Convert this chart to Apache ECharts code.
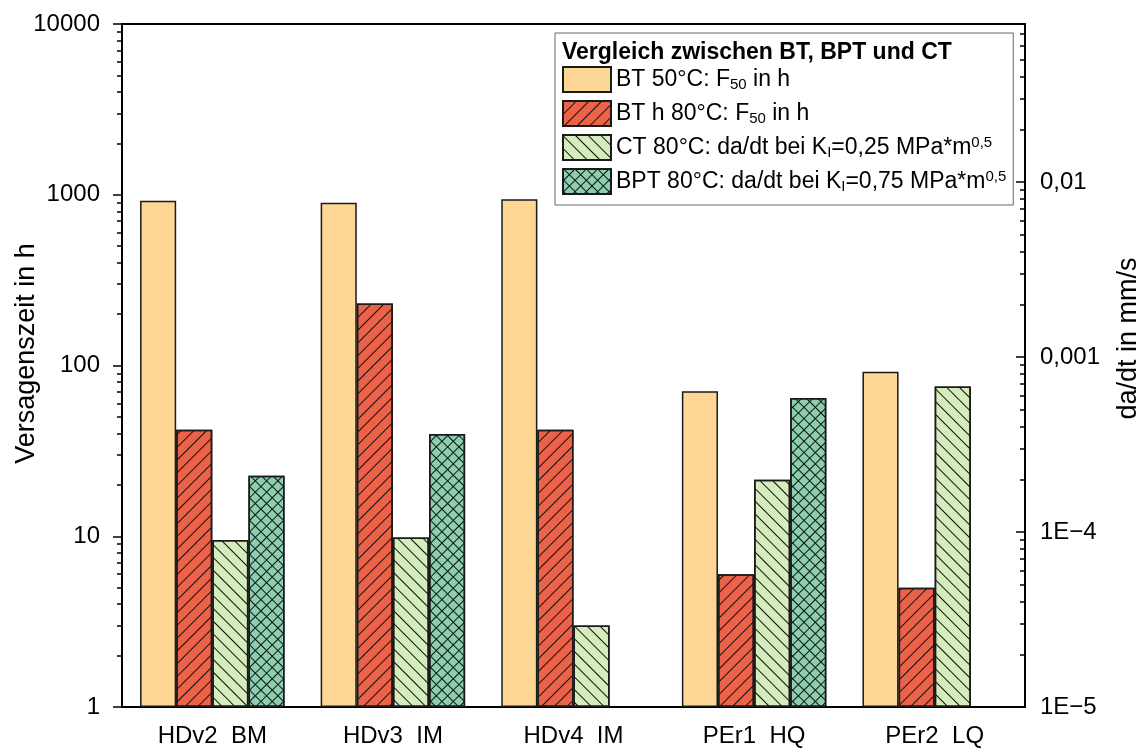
<!DOCTYPE html>
<html>
<head>
<meta charset="utf-8">
<script src="https://cdn.jsdelivr.net/npm/echarts@6/dist/echarts.min.js"></script>
<style>
  html, body { margin: 0; padding: 0; background: #fff; }
  #chart { width: 1146px; height: 749px; }
</style>
</head>
<body>
<div id="chart"></div>
<script>
// Sample groups on the category axis
const categories = ['HDv2  BM', 'HDv3  IM', 'HDv4  IM', 'PEr1  HQ', 'PEr2  LQ'];

// Series names (legend entries)
const seriesNames = ['BT 50°C', 'BT h 80°C', 'CT 80°C', 'BPT 80°C'];

// Failure times in h (left axis)
const bt50 = [923, 898, 940, 70.6, 92];
const bt80 = [42, 231, 42, 6.0, 5.0];

// Crack growth rates da/dt in mm/s (right axis)
const ct80 = [9.0e-5, 9.3e-5, 2.92e-5, 1.99e-4, 6.78e-4];
const bpt80 = [2.10e-4, 3.63e-4, null, 5.83e-4, null];

// Axis tick values and labels
const leftTicks = [1, 10, 100, 1000, 10000];
const leftTickLabels = ['1', '10', '100', '1000', '10000'];
const rightTicks = [1e-5, 1e-4, 1e-3, 1e-2];
const rightTickLabels = ['1E\u22125', '1E\u22124', '0,001', '0,01'];

// Legend texts with sub-/superscripts (rich text)
const legendTexts = [
  'BT 50°C: F{sub|50} in h',
  'BT h 80°C: F{sub|50} in h',
  'CT 80°C: da/dt bei K{sub|I}=0,25 MPa*m{sup|0,5}',
  'BPT 80°C: da/dt bei K{sub|I}=0,75 MPa*m{sup|0,5}'
];
const legendTitle = 'Vergleich zwischen BT, BPT und CT';

const FONT = '"Liberation Sans", Arial, Helvetica, sans-serif';

// minor ticks of a decade-based log axis: 2..9 times each power of ten
function minorTicks(expLo, expHi, maxVal) {
  const out = [];
  for (let e = expLo; e < expHi; e++) {
    for (let m = 2; m <= 9; m++) {
      const v = m * Math.pow(10, e);
      if (v <= maxVal * 1.0001) out.push(v);
    }
  }
  return out;
}
const leftMinor = minorTicks(0, 4, 10000);
const rightMinor = minorTicks(-5, -1, 0.08);

// hatch patterns
const hatchUp = { symbol: 'rect', symbolSize: 1, dashArrayX: [1, 0], dashArrayY: [1, 7.5], rotation: -Math.PI / 4, color: '#111' };
const hatchDown = { symbol: 'rect', symbolSize: 1, dashArrayX: [1, 0], dashArrayY: [1, 7.5], rotation: Math.PI / 4, color: '#111' };
const crossHatch = {
  symbol: 'rect', symbolSize: 1,
  dashArrayX: [[1, 0], [1, 7], [1, 7], [1, 7], [1, 7], [1, 7], [1, 7], [1, 7]],
  dashArrayY: [1, 0],
  rotation: Math.PI / 4, color: '#111'
};

const axisLineStyle = { color: '#000', width: 2 };
const tickStyle = { color: '#000', width: 1.5 };
const border = { borderColor: '#1a1a1a', borderWidth: 1.5 };

const chart = echarts.init(document.getElementById('chart'), null, { renderer: 'canvas' });

const option = {
  backgroundColor: '#fff',
  animation: false,
  textStyle: { fontFamily: FONT },
  title: {
    text: legendTitle,
    left: 557, top: 36,
    textStyle: { fontFamily: FONT, fontSize: 23, fontWeight: 'bold', color: '#000' }
  },
  legend: {
    orient: 'vertical',
    left: 555, top: 33,
    padding: [33, 7, 10, 7],
    backgroundColor: '#fff',
    borderColor: '#666', borderWidth: 1,
    itemWidth: 48, itemHeight: 25, itemGap: 7,
    icon: 'rect',
    data: seriesNames,
    formatter: function (name) { return legendTexts[seriesNames.indexOf(name)]; },
    textStyle: {
      fontFamily: FONT, fontSize: 23, color: '#000', lineHeight: 25,
      rich: {
        sub: { fontFamily: FONT, fontSize: 15, lineHeight: 14, verticalAlign: 'bottom', color: '#000' },
        sup: { fontFamily: FONT, fontSize: 15, lineHeight: 14, verticalAlign: 'top', color: '#000' }
      }
    }
  },
  grid: {
    left: 122, right: 121, top: 24, bottom: 42,
    outerBoundsMode: 'none', containLabel: false,
    show: true, borderColor: '#000', borderWidth: 2, backgroundColor: 'transparent'
  },
  xAxis: [
    {
      type: 'category', data: categories, position: 'bottom',
      axisLine: { lineStyle: axisLineStyle },
      axisTick: { alignWithLabel: true, length: 11, lineStyle: tickStyle },
      axisLabel: { fontFamily: FONT, fontSize: 24, color: '#000', margin: 17 }
    },
    {
      type: 'category', data: categories, position: 'bottom',
      axisLine: { show: false },
      axisTick: { length: 5, lineStyle: tickStyle },
      axisLabel: { show: false }
    }
  ],
  yAxis: [
    {
      type: 'log', logBase: 10, min: 1, max: 10000, position: 'left',
      name: 'Versagenszeit in h', nameLocation: 'middle', nameRotate: 90, nameGap: 82,
      nameMoveOverlap: false,
      nameTextStyle: { fontFamily: FONT, fontSize: 27, color: '#000', padding: [0, 0, 0, 24] },
      axisLine: { show: true, lineStyle: axisLineStyle },
      axisTick: { show: true, length: 9, lineStyle: tickStyle, customValues: leftTicks },
      axisLabel: {
        fontFamily: FONT, fontSize: 24, color: '#000', margin: 22, customValues: leftTicks,
        formatter: function (v) { return leftTickLabels[Math.round(Math.log10(v))]; }
      },
      splitLine: { show: false }
    },
    {
      type: 'log', logBase: 10, min: 1e-5, max: 0.08, startValue: 1e-5, position: 'right',
      name: 'da/dt in mm/s', nameLocation: 'middle', nameRotate: 90, nameGap: 90,
      nameMoveOverlap: false,
      nameTextStyle: { fontFamily: FONT, fontSize: 27, color: '#000', padding: [0, 0, 0, 54] },
      axisLine: { show: true, lineStyle: axisLineStyle },
      axisTick: { show: true, inside: true, length: 9, lineStyle: tickStyle, customValues: rightTicks },
      axisLabel: {
        fontFamily: FONT, fontSize: 24, color: '#000', margin: 15, customValues: rightTicks,
        formatter: function (v) { return rightTickLabels[Math.round(Math.log10(v)) + 5]; }
      },
      splitLine: { show: false }
    },
    {
      type: 'log', logBase: 10, min: 1, max: 10000, position: 'left',
      axisLine: { show: false },
      axisTick: { show: true, length: 5, lineStyle: tickStyle, customValues: leftMinor },
      axisLabel: { show: false },
      splitLine: { show: false }
    },
    {
      type: 'log', logBase: 10, min: 1e-5, max: 0.08, position: 'right',
      axisLine: { show: false },
      axisTick: { show: true, inside: true, length: 5, lineStyle: tickStyle, customValues: rightMinor },
      axisLabel: { show: false },
      splitLine: { show: false }
    }
  ],
  series: [
    {
      name: seriesNames[0], type: 'bar', xAxisIndex: 0, yAxisIndex: 0, data: bt50,
      barGap: '0%', barCategoryGap: '20%',
      itemStyle: Object.assign({ color: '#FDD793' }, border)
    },
    {
      name: seriesNames[1], type: 'bar', xAxisIndex: 0, yAxisIndex: 0, data: bt80,
      itemStyle: Object.assign({ color: '#EC6248', decal: hatchUp }, border)
    },
    {
      name: seriesNames[2], type: 'bar', xAxisIndex: 0, yAxisIndex: 1, data: ct80,
      itemStyle: Object.assign({ color: '#D5EDBC', decal: hatchDown }, border)
    },
    {
      name: seriesNames[3], type: 'bar', xAxisIndex: 0, yAxisIndex: 1, data: bpt80,
      itemStyle: Object.assign({ color: '#8BCFAF', decal: crossHatch }, border)
    }
  ]
};

chart.setOption(option);
</script>
</body>
</html>
